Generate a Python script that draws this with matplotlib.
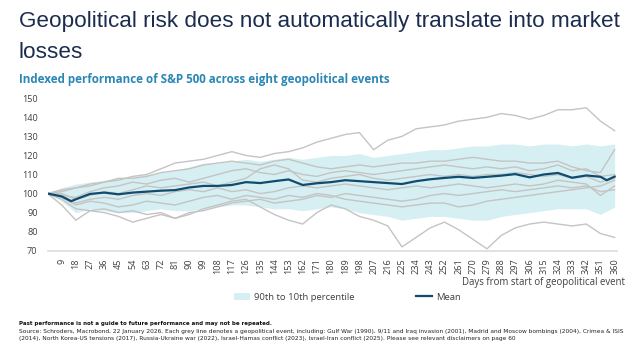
import numpy as np
import matplotlib.pyplot as plt
from matplotlib.patches import Patch
from matplotlib.lines import Line2D

days = np.arange(0, 361, 9)

gulf_war = [100, 101, 103, 104, 106, 107, 109, 110, 113, 116, 117, 118, 120, 122, 120, 119, 121, 122, 124, 127, 129,
            131, 132, 123, 128, 130, 134, 135, 136, 138, 139, 140, 142, 141, 139, 141, 144, 144, 145, 138, 133]
iraq = [100, 102, 103, 105, 106, 108, 108, 109, 111, 112, 113, 115, 116, 117, 116, 115, 117, 118, 116, 114, 113,
        114, 115, 114, 115, 116, 116, 117, 117, 118, 119, 118, 117, 117, 116, 116, 117, 114, 112, 111, 123]
madrid = [100, 99, 98, 101, 103, 104, 106, 105, 107, 108, 106, 108, 110, 112, 113, 111, 110, 112, 110, 109, 111,
          112, 111, 110, 111, 112, 113, 114, 115, 114, 113, 114, 113, 114, 112, 113, 115, 112, 113, 109, 110]
crimea = [100, 100, 97, 99, 101, 100, 102, 104, 103, 104, 105, 106, 104, 106, 108, 113, 115, 113, 107, 106, 108,
          109, 110, 108, 107, 108, 109, 110, 109, 110, 109, 110, 110, 111, 110, 109, 110, 108, 109, 106, 108]
korea = [100, 99, 95, 97, 98, 97, 99, 100, 99, 101, 102, 101, 103, 101, 102, 100, 101, 103, 104, 103, 104,
         105, 104, 103, 102, 103, 104, 103, 104, 105, 104, 103, 104, 105, 104, 105, 107, 106, 105, 99, 104]
ukraine = [100, 98, 94, 96, 95, 93, 94, 96, 95, 94, 96, 98, 99, 97, 99, 98, 97, 99, 98, 100, 99,
           97, 96, 95, 94, 93, 94, 95, 95, 93, 94, 96, 97, 98, 99, 100, 101, 102, 103, 104, 107]
hamas = [100, 94, 86, 91, 90, 88, 85, 87, 89, 87, 90, 91, 93, 95, 96, 97, 95, 96, 97, 99, 98,
         100, 99, 98, 97, 96, 97, 99, 100, 99, 100, 101, 102, 101, 102, 103, 104, 103, 104, 101, 102]
iran = [100, 97, 92, 91, 92, 90, 91, 89, 90, 87, 89, 92, 94, 96, 97, 93, 89, 86, 84, 90, 94,
        92, 88, 86, 83, 72, 77, 82, 85, 81, 76, 71, 78, 82, 84, 85, 84, 83, 84, 79, 77]
events = [gulf_war, iraq, madrid, crimea, korea, ukraine, hamas, iran]

pct90 = [100, 103, 105, 106, 107, 108, 109, 110, 111, 112, 114, 116, 116, 117, 118, 117, 118, 119, 118, 119, 120,
         120, 121, 119, 120, 121, 122, 123, 123, 124, 125, 125, 126, 126, 125, 126, 126, 125, 126, 125, 126]
pct10 = [100, 96, 90, 92, 91, 90, 90, 91, 92, 91, 91, 92, 93, 94, 94, 93, 92, 92, 91, 92, 93,
         92, 90, 89, 88, 86, 87, 88, 88, 87, 86, 86, 88, 89, 90, 91, 92, 92, 92, 89, 93]

mean_days = [0, 9, 15, 18, 27, 36, 45, 54, 63, 72, 81, 90, 99, 108, 117, 126, 135, 144, 153, 162, 171, 180,
             189, 198, 207, 216, 225, 234, 243, 252, 261, 270, 279, 288, 297, 306, 315, 324, 333, 342, 351, 355, 360]
mean_vals = [100, 98.5, 96, 97, 99.8, 100.5, 99.6, 100.5, 101, 101.5, 101.8, 103.2, 104, 104, 104.5, 106, 105.5,
             106.5, 107.4, 104.5, 105.4, 106, 107, 106.5, 106, 105.5, 105, 106.5, 107.5, 108.2, 108.8, 108.2,
             108.8, 109.4, 110.2, 108.5, 110, 110.8, 108.3, 109.5, 108.8, 107, 108.9]

grey = '#c4c4c4'
band = '#d6eff2'
navy = '#0f4c70'
text_col = '#404040'
plt.rcParams['font.family'] = ['Open Sans', 'DejaVu Sans']

fig = plt.figure(figsize=(6.36, 3.49), dpi=100)
ax = fig.add_axes([47.5/636, 98.3/349, (617-47.5)/636, (250.7-98.3)/349])

ax.fill_between(days, pct10, pct90, color=band, lw=0, zorder=1)
for ev in events:
    ax.plot(days, ev, color=grey, lw=1.0, zorder=2)
ax.plot(mean_days, mean_vals, color=navy, lw=1.6, zorder=3)

ax.set_xlim(0, 361.5)
ax.set_ylim(70, 150)
ax.set_yticks(np.arange(70, 151, 10))
ax.set_xticks(np.arange(9, 361, 9))
ax.set_xticklabels([str(d) for d in range(9, 361, 9)], rotation=90)
ax.tick_params(axis='x', length=0, pad=5.5, labelsize=6.6, labelcolor=text_col)
ax.tick_params(axis='y', length=0, pad=7.2, labelsize=6.6, labelcolor=text_col)
for s in ['top', 'right', 'left']:
    ax.spines[s].set_visible(False)
ax.spines['bottom'].set_color('#dcdcdc')
ax.spines['bottom'].set_linewidth(1.2)

fig.text(625/636, 1-283/349, 'Days from start of geopolitical event', ha='right', va='center',
         fontsize=6.9, color=text_col)

# legend
handles = [Patch(facecolor=band, edgecolor='none'), Line2D([], [], color=navy, lw=1.6)]
fig.legend(handles, ['90th to 10th percentile', 'Mean'], loc='center', bbox_to_anchor=(347.5/636, 1-297/349),
           ncol=2, frameon=False, fontsize=6.8, handlelength=1.7, handletextpad=0.4, columnspacing=6.5,
           labelcolor=text_col)

fig.text(19/636, 1-22/349, 'Geopolitical risk does not automatically translate into market',
         ha='left', va='center', fontsize=16.2, color='#1b2c4e', family='Liberation Sans')
fig.text(19/636, 1-53/349, 'losses',
         ha='left', va='center', fontsize=16.2, color='#1b2c4e', family='Liberation Sans')
fig.text(19/636, 1-79/349, 'Indexed performance of S&P 500 across eight geopolitical events',
         ha='left', va='center', fontsize=8.4, color='#2b87b5', weight='bold')

fig.text(19/636, 1-323/349, 'Past performance is not a guide to future performance and may not be repeated.',
         ha='left', va='center', fontsize=3.95, weight='bold', color='#111111', family='DejaVu Sans')
fig.text(19/636, 1-335/349,
         'Source: Schroders, Macrobond, 22 January 2026. Each grey line denotes a geopolitical event, including: '
         'Gulf War (1990), 9/11 and Iraq invasion (2001), Madrid and Moscow bombings (2004), Crimea & ISIS\n'
         '(2014), North Korea-US tensions (2017), Russia-Ukraine war (2022), Israel-Hamas conflict (2023), '
         'Israel-Iran conflict (2025). Please see relevant disclaimers on page 60',
         ha='left', va='center', fontsize=4.2, color='#222222', linespacing=1.3, family='DejaVu Sans')

fig.savefig('out.png', dpi=100)
plt.close(fig)
